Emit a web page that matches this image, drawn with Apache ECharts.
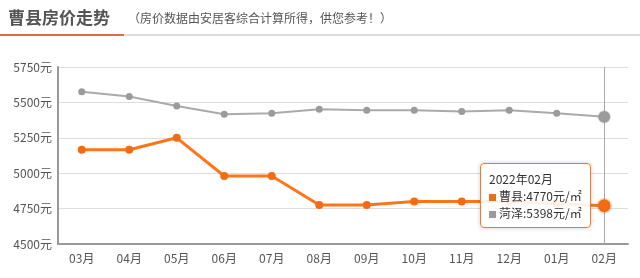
<!DOCTYPE html>
<html><head><meta charset="utf-8">
<script src="https://cdn.jsdelivr.net/npm/echarts@6/dist/echarts.min.js"></script>
<style>
html,body{margin:0;padding:0;background:#fff;}
#wrap{position:relative;width:640px;height:278px;overflow:hidden;font-family:"Noto Sans CJK SC",sans-serif;}
#title{position:absolute;left:8px;top:4px;font-size:17px;font-weight:bold;color:#555;}
#sub{position:absolute;left:128px;top:9px;font-size:12px;color:#555;}
#ul1{position:absolute;left:0;top:34px;width:640px;height:2px;background:#dcdcdc;}
#ul2{position:absolute;left:0;top:34px;width:124px;height:2px;background:#d4704a;}
#chart{position:absolute;left:0;top:0;width:640px;height:278px;}
</style></head>
<body><div id="wrap">
<div id="chart"></div>
<div id="title">曹县房价走势</div>
<div id="sub">（房价数据由安居客综合计算所得，供您参考！）</div>
<div id="ul1"></div><div id="ul2"></div>
</div>
<script>
var months = ['03月','04月','05月','06月','07月','08月','09月','10月','11月','12月','01月','02月'];
var fullDates = ['2021年03月','2021年04月','2021年05月','2021年06月','2021年07月','2021年08月','2021年09月','2021年10月','2021年11月','2021年12月','2022年01月','2022年02月'];
var caoxian = [5166, 5166, 5250, 4980, 4980, 4775, 4775, 4800, 4800, 4800, 4785, 4770];
var heze = [5576, 5541, 5475, 5417, 5424, 5452, 5445, 5445, 5435, 5445, 5424, 5398];
var yTicks = [4500, 4750, 5000, 5250, 5500, 5750];

var chart = echarts.init(document.getElementById('chart'));
chart.setOption({
  animation: false,
  textStyle: {fontFamily: '"Noto Sans CJK SC", sans-serif'},
  grid: {left: 58, right: 12, top: 67, bottom: 34},
  tooltip: {
    trigger: 'axis',
    alwaysShowContent: true,
    position: [480, 163],
    backgroundColor: 'rgba(255,255,255,0.9)',
    borderColor: '#f07a2a',
    borderWidth: 1,
    borderRadius: 4,
    padding: [6, 8],
    extraCssText: 'box-shadow:0 0 4px rgba(0,0,0,0.2);',
    textStyle: {color: '#333', fontSize: 12, lineHeight: 17},
    axisPointer: {type: 'line', z: 1, lineStyle: {color: '#aaa', width: 1, type: 'solid'}},
    formatter: function (ps) {
      var s = fullDates[ps[0].dataIndex];
      ps.forEach(function (p) {
        s += '<br/><span style="display:inline-block;width:7px;height:7px;margin-right:3px;background:' + p.color + ';"></span>' + p.seriesName + ':' + p.value + '元/㎡';
      });
      return '<div style="line-height:17px;font-size:12px;color:#333;">' + s + '</div>';
    }
  },
  xAxis: {
    type: 'category',
    data: months,
    boundaryGap: true,
    axisLine: {lineStyle: {color: '#999', width: 2}},
    axisTick: {alignWithLabel: true, length: 4, lineStyle: {color: '#ddd'}},
    axisLabel: {color: '#555', fontSize: 12, margin: 8}
  },
  yAxis: {
    type: 'value',
    min: yTicks[0], max: yTicks[yTicks.length - 1], interval: 250,
    axisLine: {show: true, lineStyle: {color: '#999', width: 2}},
    axisTick: {show: false},
    splitLine: {lineStyle: {color: '#ddd'}},
    axisLabel: {color: '#555', fontSize: 12, margin: 6, formatter: function (v) { return v + '元'; }}
  },
  series: [
    {name: '曹县', type: 'line', data: caoxian, color: '#f26b15', z: 5,
     symbol: 'circle', symbolSize: 8, lineStyle: {width: 3},
     emphasis: {scale: 1.6, itemStyle: {color: '#f26b15', borderColor: 'rgba(242,107,21,0.25)', borderWidth: 3}}},
    {name: '菏泽', type: 'line', data: heze, color: '#9b9b9b', z: 4,
     symbol: 'circle', symbolSize: 7, lineStyle: {width: 2},
     emphasis: {scale: 1.7, itemStyle: {color: '#9b9b9b', borderColor: 'rgba(155,155,155,0.25)', borderWidth: 2}}}
  ]
});
chart.dispatchAction({type: 'showTip', seriesIndex: 0, dataIndex: 11});
</script>
</body></html>
